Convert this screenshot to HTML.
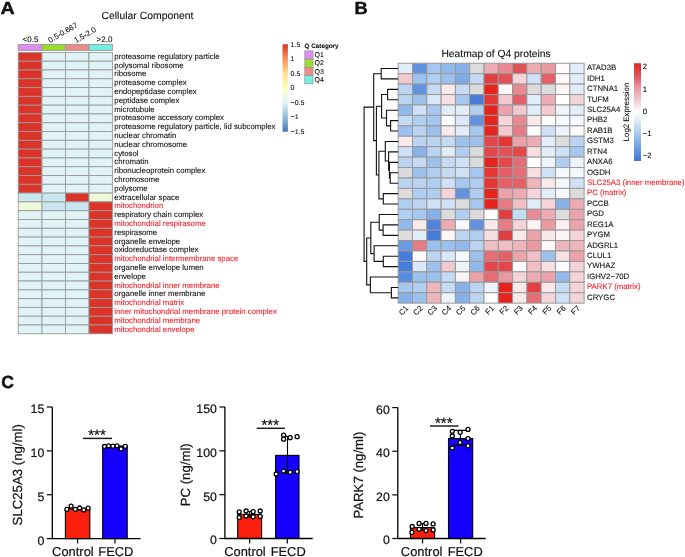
<!DOCTYPE html><html><head><meta charset="utf-8"><style>html,body{margin:0;padding:0;background:#fff;}svg{display:block;will-change:transform;}text{font-family:"Liberation Sans",sans-serif;text-rendering:geometricPrecision;}</style></head><body>
<svg width="685" height="557" viewBox="0 0 685 557">
<rect width="685" height="557" fill="#fff"/>
<text transform="translate(0.4,14.1) scale(1.12,1)" font-size="17.6" font-weight="bold" fill="#111" stroke="#111" stroke-width="0.45">A</text>
<text transform="translate(354.4,14) scale(1.04,1)" font-size="17.6" font-weight="bold" fill="#111" stroke="#111" stroke-width="0.45">B</text>
<text transform="translate(1.2,387.5) scale(1.0,1)" font-size="17.6" font-weight="bold" fill="#111" stroke="#111" stroke-width="0.45">C</text>
<text x="101.5" y="18.9" font-size="10.42" fill="#111" stroke="#111" stroke-width="0.1">Cellular Component</text>
<rect x="18.20" y="44.4" width="23.80" height="6" fill="#e08cf6" stroke="#999" stroke-width="0.9"/>
<rect x="42.00" y="44.4" width="23.50" height="6" fill="#9ade2c" stroke="#999" stroke-width="0.9"/>
<rect x="65.50" y="44.4" width="23.50" height="6" fill="#f08a86" stroke="#999" stroke-width="0.9"/>
<rect x="89.00" y="44.4" width="23.40" height="6" fill="#6ef2e4" stroke="#999" stroke-width="0.9"/>
<rect x="18.20" y="52.40" width="23.80" height="8.79" fill="#db3328" stroke="#9a9a9a" stroke-width="0.9"/>
<rect x="42.00" y="52.40" width="23.50" height="8.79" fill="#e0f4f7" stroke="#9a9a9a" stroke-width="0.9"/>
<rect x="65.50" y="52.40" width="23.50" height="8.79" fill="#e0f4f7" stroke="#9a9a9a" stroke-width="0.9"/>
<rect x="89.00" y="52.40" width="23.40" height="8.79" fill="#e0f4f7" stroke="#9a9a9a" stroke-width="0.9"/>
<text x="114.3" y="58.90" font-size="7.8" fill="#111" stroke="#111" stroke-width="0.1">proteasome regulatory particle</text>
<rect x="18.20" y="61.19" width="23.80" height="8.79" fill="#db3328" stroke="#9a9a9a" stroke-width="0.9"/>
<rect x="42.00" y="61.19" width="23.50" height="8.79" fill="#e0f4f7" stroke="#9a9a9a" stroke-width="0.9"/>
<rect x="65.50" y="61.19" width="23.50" height="8.79" fill="#e0f4f7" stroke="#9a9a9a" stroke-width="0.9"/>
<rect x="89.00" y="61.19" width="23.40" height="8.79" fill="#e0f4f7" stroke="#9a9a9a" stroke-width="0.9"/>
<text x="114.3" y="67.69" font-size="7.8" fill="#111" stroke="#111" stroke-width="0.1">polysomal ribosome</text>
<rect x="18.20" y="69.99" width="23.80" height="8.79" fill="#db3328" stroke="#9a9a9a" stroke-width="0.9"/>
<rect x="42.00" y="69.99" width="23.50" height="8.79" fill="#e0f4f7" stroke="#9a9a9a" stroke-width="0.9"/>
<rect x="65.50" y="69.99" width="23.50" height="8.79" fill="#e0f4f7" stroke="#9a9a9a" stroke-width="0.9"/>
<rect x="89.00" y="69.99" width="23.40" height="8.79" fill="#e0f4f7" stroke="#9a9a9a" stroke-width="0.9"/>
<text x="114.3" y="76.48" font-size="7.8" fill="#111" stroke="#111" stroke-width="0.1">ribosome</text>
<rect x="18.20" y="78.78" width="23.80" height="8.79" fill="#db3328" stroke="#9a9a9a" stroke-width="0.9"/>
<rect x="42.00" y="78.78" width="23.50" height="8.79" fill="#e0f4f7" stroke="#9a9a9a" stroke-width="0.9"/>
<rect x="65.50" y="78.78" width="23.50" height="8.79" fill="#e0f4f7" stroke="#9a9a9a" stroke-width="0.9"/>
<rect x="89.00" y="78.78" width="23.40" height="8.79" fill="#e0f4f7" stroke="#9a9a9a" stroke-width="0.9"/>
<text x="114.3" y="85.28" font-size="7.8" fill="#111" stroke="#111" stroke-width="0.1">proteasome complex</text>
<rect x="18.20" y="87.58" width="23.80" height="8.79" fill="#db3328" stroke="#9a9a9a" stroke-width="0.9"/>
<rect x="42.00" y="87.58" width="23.50" height="8.79" fill="#e0f4f7" stroke="#9a9a9a" stroke-width="0.9"/>
<rect x="65.50" y="87.58" width="23.50" height="8.79" fill="#e0f4f7" stroke="#9a9a9a" stroke-width="0.9"/>
<rect x="89.00" y="87.58" width="23.40" height="8.79" fill="#e0f4f7" stroke="#9a9a9a" stroke-width="0.9"/>
<text x="114.3" y="94.07" font-size="7.8" fill="#111" stroke="#111" stroke-width="0.1">endopeptidase complex</text>
<rect x="18.20" y="96.37" width="23.80" height="8.79" fill="#db3328" stroke="#9a9a9a" stroke-width="0.9"/>
<rect x="42.00" y="96.37" width="23.50" height="8.79" fill="#e0f4f7" stroke="#9a9a9a" stroke-width="0.9"/>
<rect x="65.50" y="96.37" width="23.50" height="8.79" fill="#e0f4f7" stroke="#9a9a9a" stroke-width="0.9"/>
<rect x="89.00" y="96.37" width="23.40" height="8.79" fill="#e0f4f7" stroke="#9a9a9a" stroke-width="0.9"/>
<text x="114.3" y="102.87" font-size="7.8" fill="#111" stroke="#111" stroke-width="0.1">peptidase complex</text>
<rect x="18.20" y="105.16" width="23.80" height="8.79" fill="#db3328" stroke="#9a9a9a" stroke-width="0.9"/>
<rect x="42.00" y="105.16" width="23.50" height="8.79" fill="#e0f4f7" stroke="#9a9a9a" stroke-width="0.9"/>
<rect x="65.50" y="105.16" width="23.50" height="8.79" fill="#e0f4f7" stroke="#9a9a9a" stroke-width="0.9"/>
<rect x="89.00" y="105.16" width="23.40" height="8.79" fill="#e0f4f7" stroke="#9a9a9a" stroke-width="0.9"/>
<text x="114.3" y="111.66" font-size="7.8" fill="#111" stroke="#111" stroke-width="0.1">microtubule</text>
<rect x="18.20" y="113.96" width="23.80" height="8.79" fill="#db3328" stroke="#9a9a9a" stroke-width="0.9"/>
<rect x="42.00" y="113.96" width="23.50" height="8.79" fill="#e0f4f7" stroke="#9a9a9a" stroke-width="0.9"/>
<rect x="65.50" y="113.96" width="23.50" height="8.79" fill="#e0f4f7" stroke="#9a9a9a" stroke-width="0.9"/>
<rect x="89.00" y="113.96" width="23.40" height="8.79" fill="#e0f4f7" stroke="#9a9a9a" stroke-width="0.9"/>
<text x="114.3" y="120.45" font-size="7.8" fill="#111" stroke="#111" stroke-width="0.1">proteasome accessory complex</text>
<rect x="18.20" y="122.75" width="23.80" height="8.79" fill="#db3328" stroke="#9a9a9a" stroke-width="0.9"/>
<rect x="42.00" y="122.75" width="23.50" height="8.79" fill="#e0f4f7" stroke="#9a9a9a" stroke-width="0.9"/>
<rect x="65.50" y="122.75" width="23.50" height="8.79" fill="#e0f4f7" stroke="#9a9a9a" stroke-width="0.9"/>
<rect x="89.00" y="122.75" width="23.40" height="8.79" fill="#e0f4f7" stroke="#9a9a9a" stroke-width="0.9"/>
<text x="114.3" y="129.25" font-size="7.8" fill="#111" stroke="#111" stroke-width="0.1">proteasome regulatory particle, lid subcomplex</text>
<rect x="18.20" y="131.54" width="23.80" height="8.79" fill="#db3328" stroke="#9a9a9a" stroke-width="0.9"/>
<rect x="42.00" y="131.54" width="23.50" height="8.79" fill="#e0f4f7" stroke="#9a9a9a" stroke-width="0.9"/>
<rect x="65.50" y="131.54" width="23.50" height="8.79" fill="#e0f4f7" stroke="#9a9a9a" stroke-width="0.9"/>
<rect x="89.00" y="131.54" width="23.40" height="8.79" fill="#e0f4f7" stroke="#9a9a9a" stroke-width="0.9"/>
<text x="114.3" y="138.04" font-size="7.8" fill="#111" stroke="#111" stroke-width="0.1">nuclear chromatin</text>
<rect x="18.20" y="140.34" width="23.80" height="8.79" fill="#db3328" stroke="#9a9a9a" stroke-width="0.9"/>
<rect x="42.00" y="140.34" width="23.50" height="8.79" fill="#e0f4f7" stroke="#9a9a9a" stroke-width="0.9"/>
<rect x="65.50" y="140.34" width="23.50" height="8.79" fill="#e0f4f7" stroke="#9a9a9a" stroke-width="0.9"/>
<rect x="89.00" y="140.34" width="23.40" height="8.79" fill="#e0f4f7" stroke="#9a9a9a" stroke-width="0.9"/>
<text x="114.3" y="146.83" font-size="7.8" fill="#111" stroke="#111" stroke-width="0.1">nuclear chromosome</text>
<rect x="18.20" y="149.13" width="23.80" height="8.79" fill="#db3328" stroke="#9a9a9a" stroke-width="0.9"/>
<rect x="42.00" y="149.13" width="23.50" height="8.79" fill="#e0f4f7" stroke="#9a9a9a" stroke-width="0.9"/>
<rect x="65.50" y="149.13" width="23.50" height="8.79" fill="#e0f4f7" stroke="#9a9a9a" stroke-width="0.9"/>
<rect x="89.00" y="149.13" width="23.40" height="8.79" fill="#e0f4f7" stroke="#9a9a9a" stroke-width="0.9"/>
<text x="114.3" y="155.63" font-size="7.8" fill="#111" stroke="#111" stroke-width="0.1">cytosol</text>
<rect x="18.20" y="157.93" width="23.80" height="8.79" fill="#db3328" stroke="#9a9a9a" stroke-width="0.9"/>
<rect x="42.00" y="157.93" width="23.50" height="8.79" fill="#e0f4f7" stroke="#9a9a9a" stroke-width="0.9"/>
<rect x="65.50" y="157.93" width="23.50" height="8.79" fill="#e0f4f7" stroke="#9a9a9a" stroke-width="0.9"/>
<rect x="89.00" y="157.93" width="23.40" height="8.79" fill="#e0f4f7" stroke="#9a9a9a" stroke-width="0.9"/>
<text x="114.3" y="164.42" font-size="7.8" fill="#111" stroke="#111" stroke-width="0.1">chromatin</text>
<rect x="18.20" y="166.72" width="23.80" height="8.79" fill="#db3328" stroke="#9a9a9a" stroke-width="0.9"/>
<rect x="42.00" y="166.72" width="23.50" height="8.79" fill="#e0f4f7" stroke="#9a9a9a" stroke-width="0.9"/>
<rect x="65.50" y="166.72" width="23.50" height="8.79" fill="#e0f4f7" stroke="#9a9a9a" stroke-width="0.9"/>
<rect x="89.00" y="166.72" width="23.40" height="8.79" fill="#e0f4f7" stroke="#9a9a9a" stroke-width="0.9"/>
<text x="114.3" y="173.22" font-size="7.8" fill="#111" stroke="#111" stroke-width="0.1">ribonucleoprotein complex</text>
<rect x="18.20" y="175.51" width="23.80" height="8.79" fill="#db3328" stroke="#9a9a9a" stroke-width="0.9"/>
<rect x="42.00" y="175.51" width="23.50" height="8.79" fill="#e0f4f7" stroke="#9a9a9a" stroke-width="0.9"/>
<rect x="65.50" y="175.51" width="23.50" height="8.79" fill="#e0f4f7" stroke="#9a9a9a" stroke-width="0.9"/>
<rect x="89.00" y="175.51" width="23.40" height="8.79" fill="#e0f4f7" stroke="#9a9a9a" stroke-width="0.9"/>
<text x="114.3" y="182.01" font-size="7.8" fill="#111" stroke="#111" stroke-width="0.1">chromosome</text>
<rect x="18.20" y="184.31" width="23.80" height="8.79" fill="#db3328" stroke="#9a9a9a" stroke-width="0.9"/>
<rect x="42.00" y="184.31" width="23.50" height="8.79" fill="#e0f4f7" stroke="#9a9a9a" stroke-width="0.9"/>
<rect x="65.50" y="184.31" width="23.50" height="8.79" fill="#e0f4f7" stroke="#9a9a9a" stroke-width="0.9"/>
<rect x="89.00" y="184.31" width="23.40" height="8.79" fill="#e0f4f7" stroke="#9a9a9a" stroke-width="0.9"/>
<text x="114.3" y="190.80" font-size="7.8" fill="#111" stroke="#111" stroke-width="0.1">polysome</text>
<rect x="18.20" y="193.10" width="23.80" height="8.79" fill="#c8e6ee" stroke="#9a9a9a" stroke-width="0.9"/>
<rect x="42.00" y="193.10" width="23.50" height="8.79" fill="#c8e6ee" stroke="#9a9a9a" stroke-width="0.9"/>
<rect x="65.50" y="193.10" width="23.50" height="8.79" fill="#db3328" stroke="#9a9a9a" stroke-width="0.9"/>
<rect x="89.00" y="193.10" width="23.40" height="8.79" fill="#eff9d8" stroke="#9a9a9a" stroke-width="0.9"/>
<text x="114.3" y="199.60" font-size="7.8" fill="#111" stroke="#111" stroke-width="0.1">extracellular space</text>
<rect x="18.20" y="201.89" width="23.80" height="8.79" fill="#eff9d8" stroke="#9a9a9a" stroke-width="0.9"/>
<rect x="42.00" y="201.89" width="23.50" height="8.79" fill="#c8e6ee" stroke="#9a9a9a" stroke-width="0.9"/>
<rect x="65.50" y="201.89" width="23.50" height="8.79" fill="#c8e6ee" stroke="#9a9a9a" stroke-width="0.9"/>
<rect x="89.00" y="201.89" width="23.40" height="8.79" fill="#db3328" stroke="#9a9a9a" stroke-width="0.9"/>
<text x="114.3" y="208.39" font-size="7.8" fill="#f41e26" stroke="#f41e26" stroke-width="0.1">mitochondrion</text>
<rect x="18.20" y="210.69" width="23.80" height="8.79" fill="#e0f4f7" stroke="#9a9a9a" stroke-width="0.9"/>
<rect x="42.00" y="210.69" width="23.50" height="8.79" fill="#e0f4f7" stroke="#9a9a9a" stroke-width="0.9"/>
<rect x="65.50" y="210.69" width="23.50" height="8.79" fill="#e0f4f7" stroke="#9a9a9a" stroke-width="0.9"/>
<rect x="89.00" y="210.69" width="23.40" height="8.79" fill="#db3328" stroke="#9a9a9a" stroke-width="0.9"/>
<text x="114.3" y="217.18" font-size="7.8" fill="#111" stroke="#111" stroke-width="0.1">respiratory chain complex</text>
<rect x="18.20" y="219.48" width="23.80" height="8.79" fill="#e0f4f7" stroke="#9a9a9a" stroke-width="0.9"/>
<rect x="42.00" y="219.48" width="23.50" height="8.79" fill="#e0f4f7" stroke="#9a9a9a" stroke-width="0.9"/>
<rect x="65.50" y="219.48" width="23.50" height="8.79" fill="#e0f4f7" stroke="#9a9a9a" stroke-width="0.9"/>
<rect x="89.00" y="219.48" width="23.40" height="8.79" fill="#db3328" stroke="#9a9a9a" stroke-width="0.9"/>
<text x="114.3" y="225.98" font-size="7.8" fill="#f41e26" stroke="#f41e26" stroke-width="0.1">mitochondrial respirasome</text>
<rect x="18.20" y="228.28" width="23.80" height="8.79" fill="#e0f4f7" stroke="#9a9a9a" stroke-width="0.9"/>
<rect x="42.00" y="228.28" width="23.50" height="8.79" fill="#e0f4f7" stroke="#9a9a9a" stroke-width="0.9"/>
<rect x="65.50" y="228.28" width="23.50" height="8.79" fill="#e0f4f7" stroke="#9a9a9a" stroke-width="0.9"/>
<rect x="89.00" y="228.28" width="23.40" height="8.79" fill="#db3328" stroke="#9a9a9a" stroke-width="0.9"/>
<text x="114.3" y="234.77" font-size="7.8" fill="#111" stroke="#111" stroke-width="0.1">respirasome</text>
<rect x="18.20" y="237.07" width="23.80" height="8.79" fill="#e0f4f7" stroke="#9a9a9a" stroke-width="0.9"/>
<rect x="42.00" y="237.07" width="23.50" height="8.79" fill="#e0f4f7" stroke="#9a9a9a" stroke-width="0.9"/>
<rect x="65.50" y="237.07" width="23.50" height="8.79" fill="#e0f4f7" stroke="#9a9a9a" stroke-width="0.9"/>
<rect x="89.00" y="237.07" width="23.40" height="8.79" fill="#db3328" stroke="#9a9a9a" stroke-width="0.9"/>
<text x="114.3" y="243.57" font-size="7.8" fill="#111" stroke="#111" stroke-width="0.1">organelle envelope</text>
<rect x="18.20" y="245.86" width="23.80" height="8.79" fill="#e0f4f7" stroke="#9a9a9a" stroke-width="0.9"/>
<rect x="42.00" y="245.86" width="23.50" height="8.79" fill="#e0f4f7" stroke="#9a9a9a" stroke-width="0.9"/>
<rect x="65.50" y="245.86" width="23.50" height="8.79" fill="#e0f4f7" stroke="#9a9a9a" stroke-width="0.9"/>
<rect x="89.00" y="245.86" width="23.40" height="8.79" fill="#db3328" stroke="#9a9a9a" stroke-width="0.9"/>
<text x="114.3" y="252.36" font-size="7.8" fill="#111" stroke="#111" stroke-width="0.1">oxidoreductase complex</text>
<rect x="18.20" y="254.66" width="23.80" height="8.79" fill="#e0f4f7" stroke="#9a9a9a" stroke-width="0.9"/>
<rect x="42.00" y="254.66" width="23.50" height="8.79" fill="#e0f4f7" stroke="#9a9a9a" stroke-width="0.9"/>
<rect x="65.50" y="254.66" width="23.50" height="8.79" fill="#e0f4f7" stroke="#9a9a9a" stroke-width="0.9"/>
<rect x="89.00" y="254.66" width="23.40" height="8.79" fill="#db3328" stroke="#9a9a9a" stroke-width="0.9"/>
<text x="114.3" y="261.15" font-size="7.8" fill="#f41e26" stroke="#f41e26" stroke-width="0.1">mitochondrial intermembrane space</text>
<rect x="18.20" y="263.45" width="23.80" height="8.79" fill="#e0f4f7" stroke="#9a9a9a" stroke-width="0.9"/>
<rect x="42.00" y="263.45" width="23.50" height="8.79" fill="#e0f4f7" stroke="#9a9a9a" stroke-width="0.9"/>
<rect x="65.50" y="263.45" width="23.50" height="8.79" fill="#e0f4f7" stroke="#9a9a9a" stroke-width="0.9"/>
<rect x="89.00" y="263.45" width="23.40" height="8.79" fill="#db3328" stroke="#9a9a9a" stroke-width="0.9"/>
<text x="114.3" y="269.95" font-size="7.8" fill="#111" stroke="#111" stroke-width="0.1">organelle envelope lumen</text>
<rect x="18.20" y="272.24" width="23.80" height="8.79" fill="#e0f4f7" stroke="#9a9a9a" stroke-width="0.9"/>
<rect x="42.00" y="272.24" width="23.50" height="8.79" fill="#e0f4f7" stroke="#9a9a9a" stroke-width="0.9"/>
<rect x="65.50" y="272.24" width="23.50" height="8.79" fill="#e0f4f7" stroke="#9a9a9a" stroke-width="0.9"/>
<rect x="89.00" y="272.24" width="23.40" height="8.79" fill="#db3328" stroke="#9a9a9a" stroke-width="0.9"/>
<text x="114.3" y="278.74" font-size="7.8" fill="#111" stroke="#111" stroke-width="0.1">envelope</text>
<rect x="18.20" y="281.04" width="23.80" height="8.79" fill="#e0f4f7" stroke="#9a9a9a" stroke-width="0.9"/>
<rect x="42.00" y="281.04" width="23.50" height="8.79" fill="#e0f4f7" stroke="#9a9a9a" stroke-width="0.9"/>
<rect x="65.50" y="281.04" width="23.50" height="8.79" fill="#e0f4f7" stroke="#9a9a9a" stroke-width="0.9"/>
<rect x="89.00" y="281.04" width="23.40" height="8.79" fill="#db3328" stroke="#9a9a9a" stroke-width="0.9"/>
<text x="114.3" y="287.53" font-size="7.8" fill="#f41e26" stroke="#f41e26" stroke-width="0.1">mitochondrial inner membrane</text>
<rect x="18.20" y="289.83" width="23.80" height="8.79" fill="#e0f4f7" stroke="#9a9a9a" stroke-width="0.9"/>
<rect x="42.00" y="289.83" width="23.50" height="8.79" fill="#e0f4f7" stroke="#9a9a9a" stroke-width="0.9"/>
<rect x="65.50" y="289.83" width="23.50" height="8.79" fill="#e0f4f7" stroke="#9a9a9a" stroke-width="0.9"/>
<rect x="89.00" y="289.83" width="23.40" height="8.79" fill="#db3328" stroke="#9a9a9a" stroke-width="0.9"/>
<text x="114.3" y="296.33" font-size="7.8" fill="#111" stroke="#111" stroke-width="0.1">organelle inner membrane</text>
<rect x="18.20" y="298.62" width="23.80" height="8.79" fill="#e0f4f7" stroke="#9a9a9a" stroke-width="0.9"/>
<rect x="42.00" y="298.62" width="23.50" height="8.79" fill="#e0f4f7" stroke="#9a9a9a" stroke-width="0.9"/>
<rect x="65.50" y="298.62" width="23.50" height="8.79" fill="#e0f4f7" stroke="#9a9a9a" stroke-width="0.9"/>
<rect x="89.00" y="298.62" width="23.40" height="8.79" fill="#db3328" stroke="#9a9a9a" stroke-width="0.9"/>
<text x="114.3" y="305.12" font-size="7.8" fill="#f41e26" stroke="#f41e26" stroke-width="0.1">mitochondrial matrix</text>
<rect x="18.20" y="307.42" width="23.80" height="8.79" fill="#e0f4f7" stroke="#9a9a9a" stroke-width="0.9"/>
<rect x="42.00" y="307.42" width="23.50" height="8.79" fill="#e0f4f7" stroke="#9a9a9a" stroke-width="0.9"/>
<rect x="65.50" y="307.42" width="23.50" height="8.79" fill="#e0f4f7" stroke="#9a9a9a" stroke-width="0.9"/>
<rect x="89.00" y="307.42" width="23.40" height="8.79" fill="#db3328" stroke="#9a9a9a" stroke-width="0.9"/>
<text x="114.3" y="313.92" font-size="7.8" fill="#f41e26" stroke="#f41e26" stroke-width="0.1">inner mitochondrial membrane protein complex</text>
<rect x="18.20" y="316.21" width="23.80" height="8.79" fill="#e0f4f7" stroke="#9a9a9a" stroke-width="0.9"/>
<rect x="42.00" y="316.21" width="23.50" height="8.79" fill="#e0f4f7" stroke="#9a9a9a" stroke-width="0.9"/>
<rect x="65.50" y="316.21" width="23.50" height="8.79" fill="#e0f4f7" stroke="#9a9a9a" stroke-width="0.9"/>
<rect x="89.00" y="316.21" width="23.40" height="8.79" fill="#db3328" stroke="#9a9a9a" stroke-width="0.9"/>
<text x="114.3" y="322.71" font-size="7.8" fill="#f41e26" stroke="#f41e26" stroke-width="0.1">mitochondrial membrane</text>
<rect x="18.20" y="325.01" width="23.80" height="8.79" fill="#e0f4f7" stroke="#9a9a9a" stroke-width="0.9"/>
<rect x="42.00" y="325.01" width="23.50" height="8.79" fill="#e0f4f7" stroke="#9a9a9a" stroke-width="0.9"/>
<rect x="65.50" y="325.01" width="23.50" height="8.79" fill="#e0f4f7" stroke="#9a9a9a" stroke-width="0.9"/>
<rect x="89.00" y="325.01" width="23.40" height="8.79" fill="#db3328" stroke="#9a9a9a" stroke-width="0.9"/>
<text x="114.3" y="331.50" font-size="7.8" fill="#f41e26" stroke="#f41e26" stroke-width="0.1">mitochondrial envelope</text>
<text x="22.6" y="41.9" font-size="8" fill="#111" stroke="#111" stroke-width="0.1">&lt;0.5</text>
<text x="96.6" y="41.9" font-size="8" fill="#111" stroke="#111" stroke-width="0.1">&gt;2.0</text>
<text transform="translate(50.1,42.9) rotate(-30)" font-size="7.7" fill="#111" stroke="#111" stroke-width="0.1">0.5-0.667</text>
<text transform="translate(76,43.1) rotate(-30)" font-size="7.7" fill="#111" stroke="#111" stroke-width="0.1">1.5-2.0</text>
<defs><linearGradient id="rdylbu" x1="0" y1="1" x2="0" y2="0"><stop offset="0" stop-color="#4575b4"/><stop offset="0.1667" stop-color="#91bfdb"/><stop offset="0.3333" stop-color="#e0f3f8"/><stop offset="0.5" stop-color="#ffffbf"/><stop offset="0.6667" stop-color="#fee090"/><stop offset="0.8333" stop-color="#fc8d59"/><stop offset="1" stop-color="#d73027"/></linearGradient><linearGradient id="bwr" x1="0" y1="1" x2="0" y2="0"><stop offset="0" stop-color="#3e76d8"/><stop offset="0.125" stop-color="#6a9ae2"/><stop offset="0.25" stop-color="#9cc1ed"/><stop offset="0.375" stop-color="#cfe1f6"/><stop offset="0.5" stop-color="#ffffff"/><stop offset="0.625" stop-color="#f1c9ce"/><stop offset="0.75" stop-color="#ea99a1"/><stop offset="0.875" stop-color="#e25058"/><stop offset="1" stop-color="#e5241e"/></linearGradient></defs>
<rect x="282.5" y="44.3" width="5.4" height="87.4" fill="url(#rdylbu)"/>
<text x="290.6" y="46.7" font-size="7" fill="#111" stroke="#111" stroke-width="0.1">1.5</text>
<text x="290.6" y="61.3" font-size="7" fill="#111" stroke="#111" stroke-width="0.1">1</text>
<text x="290.6" y="75.6" font-size="7" fill="#111" stroke="#111" stroke-width="0.1">0.5</text>
<text x="290.6" y="90.0" font-size="7" fill="#111" stroke="#111" stroke-width="0.1">0</text>
<text x="290.6" y="104.7" font-size="7" fill="#111" stroke="#111" stroke-width="0.1">−0.5</text>
<text x="290.6" y="119.1" font-size="7" fill="#111" stroke="#111" stroke-width="0.1">−1</text>
<text x="290.6" y="133.5" font-size="7" fill="#111" stroke="#111" stroke-width="0.1">−1.5</text>
<text x="304.6" y="48.2" font-size="6.3" font-weight="bold" fill="#111" stroke="#111" stroke-width="0.1">Q Category</text>
<rect x="304.8" y="50.9" width="8.2" height="8.2" fill="#e08cf6" stroke="#999" stroke-width="0.8"/>
<text x="314.5" y="57.0" font-size="7" fill="#111" stroke="#111" stroke-width="0.1">Q1</text>
<rect x="304.8" y="59.2" width="8.2" height="8.2" fill="#9ade2c" stroke="#999" stroke-width="0.8"/>
<text x="314.5" y="65.3" font-size="7" fill="#111" stroke="#111" stroke-width="0.1">Q2</text>
<rect x="304.8" y="67.4" width="8.2" height="8.2" fill="#f08a86" stroke="#999" stroke-width="0.8"/>
<text x="314.5" y="73.5" font-size="7" fill="#111" stroke="#111" stroke-width="0.1">Q3</text>
<rect x="304.8" y="75.6" width="8.2" height="8.2" fill="#6ef2e4" stroke="#999" stroke-width="0.8"/>
<text x="314.5" y="81.7" font-size="7" fill="#111" stroke="#111" stroke-width="0.1">Q4</text>
<text x="441.4" y="56.7" font-size="10.3" fill="#111" stroke="#111" stroke-width="0.1">Heatmap of Q4 proteins</text>
<rect x="398.20" y="63.25" width="14.30" height="10.43" fill="#e2edfa" stroke="#999" stroke-width="1"/>
<rect x="412.50" y="63.25" width="14.30" height="10.43" fill="#6193e0" stroke="#999" stroke-width="1"/>
<rect x="426.80" y="63.25" width="14.30" height="10.43" fill="#a6c7ef" stroke="#999" stroke-width="1"/>
<rect x="441.10" y="63.25" width="14.30" height="10.43" fill="#92b9eb" stroke="#999" stroke-width="1"/>
<rect x="455.40" y="63.25" width="14.30" height="10.43" fill="#88b1e9" stroke="#999" stroke-width="1"/>
<rect x="469.70" y="63.25" width="14.30" height="10.43" fill="#dcdcdc" stroke="#999" stroke-width="1"/>
<rect x="484.00" y="63.25" width="14.30" height="10.43" fill="#edacb3" stroke="#999" stroke-width="1"/>
<rect x="498.30" y="63.25" width="14.30" height="10.43" fill="#e88a92" stroke="#999" stroke-width="1"/>
<rect x="512.60" y="63.25" width="14.30" height="10.43" fill="#e25058" stroke="#999" stroke-width="1"/>
<rect x="526.90" y="63.25" width="14.30" height="10.43" fill="#edacb3" stroke="#999" stroke-width="1"/>
<rect x="541.20" y="63.25" width="14.30" height="10.43" fill="#ea99a1" stroke="#999" stroke-width="1"/>
<rect x="555.50" y="63.25" width="14.30" height="10.43" fill="#fefafa" stroke="#999" stroke-width="1"/>
<rect x="569.80" y="63.25" width="14.30" height="10.43" fill="#e2edfa" stroke="#999" stroke-width="1"/>
<text x="587" y="70.22" font-size="7.8" fill="#111" stroke="#111" stroke-width="0.1">ATAD3B</text>
<rect x="398.20" y="73.68" width="14.30" height="10.43" fill="#f1c9ce" stroke="#999" stroke-width="1"/>
<rect x="412.50" y="73.68" width="14.30" height="10.43" fill="#9cc1ed" stroke="#999" stroke-width="1"/>
<rect x="426.80" y="73.68" width="14.30" height="10.43" fill="#b0cef1" stroke="#999" stroke-width="1"/>
<rect x="441.10" y="73.68" width="14.30" height="10.43" fill="#9cc1ed" stroke="#999" stroke-width="1"/>
<rect x="455.40" y="73.68" width="14.30" height="10.43" fill="#7eaae6" stroke="#999" stroke-width="1"/>
<rect x="469.70" y="73.68" width="14.30" height="10.43" fill="#c5dbf4" stroke="#999" stroke-width="1"/>
<rect x="484.00" y="73.68" width="14.30" height="10.43" fill="#e33e41" stroke="#999" stroke-width="1"/>
<rect x="498.30" y="73.68" width="14.30" height="10.43" fill="#e25058" stroke="#999" stroke-width="1"/>
<rect x="512.60" y="73.68" width="14.30" height="10.43" fill="#f4d4d8" stroke="#999" stroke-width="1"/>
<rect x="526.90" y="73.68" width="14.30" height="10.43" fill="#cfe1f6" stroke="#999" stroke-width="1"/>
<rect x="541.20" y="73.68" width="14.30" height="10.43" fill="#e45f67" stroke="#999" stroke-width="1"/>
<rect x="555.50" y="73.68" width="14.30" height="10.43" fill="#fefafa" stroke="#999" stroke-width="1"/>
<rect x="569.80" y="73.68" width="14.30" height="10.43" fill="#e2edfa" stroke="#999" stroke-width="1"/>
<text x="587" y="80.65" font-size="7.8" fill="#111" stroke="#111" stroke-width="0.1">IDH1</text>
<rect x="398.20" y="84.11" width="14.30" height="10.43" fill="#bbd4f2" stroke="#999" stroke-width="1"/>
<rect x="412.50" y="84.11" width="14.30" height="10.43" fill="#6193e0" stroke="#999" stroke-width="1"/>
<rect x="426.80" y="84.11" width="14.30" height="10.43" fill="#c5dbf4" stroke="#999" stroke-width="1"/>
<rect x="441.10" y="84.11" width="14.30" height="10.43" fill="#f9e9eb" stroke="#999" stroke-width="1"/>
<rect x="455.40" y="84.11" width="14.30" height="10.43" fill="#c5dbf4" stroke="#999" stroke-width="1"/>
<rect x="469.70" y="84.11" width="14.30" height="10.43" fill="#dcdcdc" stroke="#999" stroke-width="1"/>
<rect x="484.00" y="84.11" width="14.30" height="10.43" fill="#e5241e" stroke="#999" stroke-width="1"/>
<rect x="498.30" y="84.11" width="14.30" height="10.43" fill="#fefafa" stroke="#999" stroke-width="1"/>
<rect x="512.60" y="84.11" width="14.30" height="10.43" fill="#e88a92" stroke="#999" stroke-width="1"/>
<rect x="526.90" y="84.11" width="14.30" height="10.43" fill="#dcdcdc" stroke="#999" stroke-width="1"/>
<rect x="541.20" y="84.11" width="14.30" height="10.43" fill="#dcdcdc" stroke="#999" stroke-width="1"/>
<rect x="555.50" y="84.11" width="14.30" height="10.43" fill="#fcf4f5" stroke="#999" stroke-width="1"/>
<rect x="569.80" y="84.11" width="14.30" height="10.43" fill="#e2edfa" stroke="#999" stroke-width="1"/>
<text x="587" y="91.08" font-size="7.8" fill="#111" stroke="#111" stroke-width="0.1">CTNNA1</text>
<rect x="398.20" y="94.54" width="14.30" height="10.43" fill="#bbd4f2" stroke="#999" stroke-width="1"/>
<rect x="412.50" y="94.54" width="14.30" height="10.43" fill="#9cc1ed" stroke="#999" stroke-width="1"/>
<rect x="426.80" y="94.54" width="14.30" height="10.43" fill="#d9e7f8" stroke="#999" stroke-width="1"/>
<rect x="441.10" y="94.54" width="14.30" height="10.43" fill="#f7dfe2" stroke="#999" stroke-width="1"/>
<rect x="455.40" y="94.54" width="14.30" height="10.43" fill="#a6c7ef" stroke="#999" stroke-width="1"/>
<rect x="469.70" y="94.54" width="14.30" height="10.43" fill="#477dda" stroke="#999" stroke-width="1"/>
<rect x="484.00" y="94.54" width="14.30" height="10.43" fill="#e43635" stroke="#999" stroke-width="1"/>
<rect x="498.30" y="94.54" width="14.30" height="10.43" fill="#f1c9ce" stroke="#999" stroke-width="1"/>
<rect x="512.60" y="94.54" width="14.30" height="10.43" fill="#e45f67" stroke="#999" stroke-width="1"/>
<rect x="526.90" y="94.54" width="14.30" height="10.43" fill="#e2edfa" stroke="#999" stroke-width="1"/>
<rect x="541.20" y="94.54" width="14.30" height="10.43" fill="#edacb3" stroke="#999" stroke-width="1"/>
<rect x="555.50" y="94.54" width="14.30" height="10.43" fill="#ffffff" stroke="#999" stroke-width="1"/>
<rect x="569.80" y="94.54" width="14.30" height="10.43" fill="#f4d4d8" stroke="#999" stroke-width="1"/>
<text x="587" y="101.50" font-size="7.8" fill="#111" stroke="#111" stroke-width="0.1">TUFM</text>
<rect x="398.20" y="104.97" width="14.30" height="10.43" fill="#92b9eb" stroke="#999" stroke-width="1"/>
<rect x="412.50" y="104.97" width="14.30" height="10.43" fill="#cfe1f6" stroke="#999" stroke-width="1"/>
<rect x="426.80" y="104.97" width="14.30" height="10.43" fill="#a6c7ef" stroke="#999" stroke-width="1"/>
<rect x="441.10" y="104.97" width="14.30" height="10.43" fill="#e2edfa" stroke="#999" stroke-width="1"/>
<rect x="455.40" y="104.97" width="14.30" height="10.43" fill="#e2edfa" stroke="#999" stroke-width="1"/>
<rect x="469.70" y="104.97" width="14.30" height="10.43" fill="#b0cef1" stroke="#999" stroke-width="1"/>
<rect x="484.00" y="104.97" width="14.30" height="10.43" fill="#e5241e" stroke="#999" stroke-width="1"/>
<rect x="498.30" y="104.97" width="14.30" height="10.43" fill="#eba3aa" stroke="#999" stroke-width="1"/>
<rect x="512.60" y="104.97" width="14.30" height="10.43" fill="#f1c9ce" stroke="#999" stroke-width="1"/>
<rect x="526.90" y="104.97" width="14.30" height="10.43" fill="#e2edfa" stroke="#999" stroke-width="1"/>
<rect x="541.20" y="104.97" width="14.30" height="10.43" fill="#f1c9ce" stroke="#999" stroke-width="1"/>
<rect x="555.50" y="104.97" width="14.30" height="10.43" fill="#ecf3fb" stroke="#999" stroke-width="1"/>
<rect x="569.80" y="104.97" width="14.30" height="10.43" fill="#e2edfa" stroke="#999" stroke-width="1"/>
<text x="587" y="111.94" font-size="7.8" fill="#111" stroke="#111" stroke-width="0.1">SLC25A4</text>
<rect x="398.20" y="115.40" width="14.30" height="10.43" fill="#c5dbf4" stroke="#999" stroke-width="1"/>
<rect x="412.50" y="115.40" width="14.30" height="10.43" fill="#b0cef1" stroke="#999" stroke-width="1"/>
<rect x="426.80" y="115.40" width="14.30" height="10.43" fill="#a6c7ef" stroke="#999" stroke-width="1"/>
<rect x="441.10" y="115.40" width="14.30" height="10.43" fill="#fafcfe" stroke="#999" stroke-width="1"/>
<rect x="455.40" y="115.40" width="14.30" height="10.43" fill="#d9e7f8" stroke="#999" stroke-width="1"/>
<rect x="469.70" y="115.40" width="14.30" height="10.43" fill="#6193e0" stroke="#999" stroke-width="1"/>
<rect x="484.00" y="115.40" width="14.30" height="10.43" fill="#e5241e" stroke="#999" stroke-width="1"/>
<rect x="498.30" y="115.40" width="14.30" height="10.43" fill="#f4d4d8" stroke="#999" stroke-width="1"/>
<rect x="512.60" y="115.40" width="14.30" height="10.43" fill="#e88a92" stroke="#999" stroke-width="1"/>
<rect x="526.90" y="115.40" width="14.30" height="10.43" fill="#f9e9eb" stroke="#999" stroke-width="1"/>
<rect x="541.20" y="115.40" width="14.30" height="10.43" fill="#fefafa" stroke="#999" stroke-width="1"/>
<rect x="555.50" y="115.40" width="14.30" height="10.43" fill="#f5f9fd" stroke="#999" stroke-width="1"/>
<rect x="569.80" y="115.40" width="14.30" height="10.43" fill="#f5f9fd" stroke="#999" stroke-width="1"/>
<text x="587" y="122.37" font-size="7.8" fill="#111" stroke="#111" stroke-width="0.1">PHB2</text>
<rect x="398.20" y="125.83" width="14.30" height="10.43" fill="#9cc1ed" stroke="#999" stroke-width="1"/>
<rect x="412.50" y="125.83" width="14.30" height="10.43" fill="#bbd4f2" stroke="#999" stroke-width="1"/>
<rect x="426.80" y="125.83" width="14.30" height="10.43" fill="#9cc1ed" stroke="#999" stroke-width="1"/>
<rect x="441.10" y="125.83" width="14.30" height="10.43" fill="#f9e9eb" stroke="#999" stroke-width="1"/>
<rect x="455.40" y="125.83" width="14.30" height="10.43" fill="#e2edfa" stroke="#999" stroke-width="1"/>
<rect x="469.70" y="125.83" width="14.30" height="10.43" fill="#a6c7ef" stroke="#999" stroke-width="1"/>
<rect x="484.00" y="125.83" width="14.30" height="10.43" fill="#e5241e" stroke="#999" stroke-width="1"/>
<rect x="498.30" y="125.83" width="14.30" height="10.43" fill="#f1c9ce" stroke="#999" stroke-width="1"/>
<rect x="512.60" y="125.83" width="14.30" height="10.43" fill="#e77c84" stroke="#999" stroke-width="1"/>
<rect x="526.90" y="125.83" width="14.30" height="10.43" fill="#fafcfe" stroke="#999" stroke-width="1"/>
<rect x="541.20" y="125.83" width="14.30" height="10.43" fill="#cfe1f6" stroke="#999" stroke-width="1"/>
<rect x="555.50" y="125.83" width="14.30" height="10.43" fill="#ecf3fb" stroke="#999" stroke-width="1"/>
<rect x="569.80" y="125.83" width="14.30" height="10.43" fill="#fefafa" stroke="#999" stroke-width="1"/>
<text x="587" y="132.79" font-size="7.8" fill="#111" stroke="#111" stroke-width="0.1">RAB1B</text>
<rect x="398.20" y="136.26" width="14.30" height="10.43" fill="#f9e9eb" stroke="#999" stroke-width="1"/>
<rect x="412.50" y="136.26" width="14.30" height="10.43" fill="#bbd4f2" stroke="#999" stroke-width="1"/>
<rect x="426.80" y="136.26" width="14.30" height="10.43" fill="#bbd4f2" stroke="#999" stroke-width="1"/>
<rect x="441.10" y="136.26" width="14.30" height="10.43" fill="#c5dbf4" stroke="#999" stroke-width="1"/>
<rect x="455.40" y="136.26" width="14.30" height="10.43" fill="#9cc1ed" stroke="#999" stroke-width="1"/>
<rect x="469.70" y="136.26" width="14.30" height="10.43" fill="#9cc1ed" stroke="#999" stroke-width="1"/>
<rect x="484.00" y="136.26" width="14.30" height="10.43" fill="#e3474c" stroke="#999" stroke-width="1"/>
<rect x="498.30" y="136.26" width="14.30" height="10.43" fill="#e43635" stroke="#999" stroke-width="1"/>
<rect x="512.60" y="136.26" width="14.30" height="10.43" fill="#eba3aa" stroke="#999" stroke-width="1"/>
<rect x="526.90" y="136.26" width="14.30" height="10.43" fill="#edacb3" stroke="#999" stroke-width="1"/>
<rect x="541.20" y="136.26" width="14.30" height="10.43" fill="#e2edfa" stroke="#999" stroke-width="1"/>
<rect x="555.50" y="136.26" width="14.30" height="10.43" fill="#dcdcdc" stroke="#999" stroke-width="1"/>
<rect x="569.80" y="136.26" width="14.30" height="10.43" fill="#bbd4f2" stroke="#999" stroke-width="1"/>
<text x="587" y="143.22" font-size="7.8" fill="#111" stroke="#111" stroke-width="0.1">GSTM3</text>
<rect x="398.20" y="146.69" width="14.30" height="10.43" fill="#cfe1f6" stroke="#999" stroke-width="1"/>
<rect x="412.50" y="146.69" width="14.30" height="10.43" fill="#88b1e9" stroke="#999" stroke-width="1"/>
<rect x="426.80" y="146.69" width="14.30" height="10.43" fill="#bbd4f2" stroke="#999" stroke-width="1"/>
<rect x="441.10" y="146.69" width="14.30" height="10.43" fill="#e2edfa" stroke="#999" stroke-width="1"/>
<rect x="455.40" y="146.69" width="14.30" height="10.43" fill="#b0cef1" stroke="#999" stroke-width="1"/>
<rect x="469.70" y="146.69" width="14.30" height="10.43" fill="#dcdcdc" stroke="#999" stroke-width="1"/>
<rect x="484.00" y="146.69" width="14.30" height="10.43" fill="#e3474c" stroke="#999" stroke-width="1"/>
<rect x="498.30" y="146.69" width="14.30" height="10.43" fill="#e25058" stroke="#999" stroke-width="1"/>
<rect x="512.60" y="146.69" width="14.30" height="10.43" fill="#e3474c" stroke="#999" stroke-width="1"/>
<rect x="526.90" y="146.69" width="14.30" height="10.43" fill="#f7dfe2" stroke="#999" stroke-width="1"/>
<rect x="541.20" y="146.69" width="14.30" height="10.43" fill="#e2edfa" stroke="#999" stroke-width="1"/>
<rect x="555.50" y="146.69" width="14.30" height="10.43" fill="#cfe1f6" stroke="#999" stroke-width="1"/>
<rect x="569.80" y="146.69" width="14.30" height="10.43" fill="#a6c7ef" stroke="#999" stroke-width="1"/>
<text x="587" y="153.66" font-size="7.8" fill="#111" stroke="#111" stroke-width="0.1">RTN4</text>
<rect x="398.20" y="157.12" width="14.30" height="10.43" fill="#bbd4f2" stroke="#999" stroke-width="1"/>
<rect x="412.50" y="157.12" width="14.30" height="10.43" fill="#c5dbf4" stroke="#999" stroke-width="1"/>
<rect x="426.80" y="157.12" width="14.30" height="10.43" fill="#9cc1ed" stroke="#999" stroke-width="1"/>
<rect x="441.10" y="157.12" width="14.30" height="10.43" fill="#c5dbf4" stroke="#999" stroke-width="1"/>
<rect x="455.40" y="157.12" width="14.30" height="10.43" fill="#cfe1f6" stroke="#999" stroke-width="1"/>
<rect x="469.70" y="157.12" width="14.30" height="10.43" fill="#dcdcdc" stroke="#999" stroke-width="1"/>
<rect x="484.00" y="157.12" width="14.30" height="10.43" fill="#e5241e" stroke="#999" stroke-width="1"/>
<rect x="498.30" y="157.12" width="14.30" height="10.43" fill="#e3474c" stroke="#999" stroke-width="1"/>
<rect x="512.60" y="157.12" width="14.30" height="10.43" fill="#e56d75" stroke="#999" stroke-width="1"/>
<rect x="526.90" y="157.12" width="14.30" height="10.43" fill="#ffffff" stroke="#999" stroke-width="1"/>
<rect x="541.20" y="157.12" width="14.30" height="10.43" fill="#ecf3fb" stroke="#999" stroke-width="1"/>
<rect x="555.50" y="157.12" width="14.30" height="10.43" fill="#b0cef1" stroke="#999" stroke-width="1"/>
<rect x="569.80" y="157.12" width="14.30" height="10.43" fill="#ecf3fb" stroke="#999" stroke-width="1"/>
<text x="587" y="164.09" font-size="7.8" fill="#111" stroke="#111" stroke-width="0.1">ANXA6</text>
<rect x="398.20" y="167.55" width="14.30" height="10.43" fill="#dcdcdc" stroke="#999" stroke-width="1"/>
<rect x="412.50" y="167.55" width="14.30" height="10.43" fill="#9cc1ed" stroke="#999" stroke-width="1"/>
<rect x="426.80" y="167.55" width="14.30" height="10.43" fill="#b0cef1" stroke="#999" stroke-width="1"/>
<rect x="441.10" y="167.55" width="14.30" height="10.43" fill="#c5dbf4" stroke="#999" stroke-width="1"/>
<rect x="455.40" y="167.55" width="14.30" height="10.43" fill="#cfe1f6" stroke="#999" stroke-width="1"/>
<rect x="469.70" y="167.55" width="14.30" height="10.43" fill="#a6c7ef" stroke="#999" stroke-width="1"/>
<rect x="484.00" y="167.55" width="14.30" height="10.43" fill="#e43635" stroke="#999" stroke-width="1"/>
<rect x="498.30" y="167.55" width="14.30" height="10.43" fill="#e45f67" stroke="#999" stroke-width="1"/>
<rect x="512.60" y="167.55" width="14.30" height="10.43" fill="#e56d75" stroke="#999" stroke-width="1"/>
<rect x="526.90" y="167.55" width="14.30" height="10.43" fill="#f7dfe2" stroke="#999" stroke-width="1"/>
<rect x="541.20" y="167.55" width="14.30" height="10.43" fill="#cfe1f6" stroke="#999" stroke-width="1"/>
<rect x="555.50" y="167.55" width="14.30" height="10.43" fill="#f5f9fd" stroke="#999" stroke-width="1"/>
<rect x="569.80" y="167.55" width="14.30" height="10.43" fill="#f5f9fd" stroke="#999" stroke-width="1"/>
<text x="587" y="174.52" font-size="7.8" fill="#111" stroke="#111" stroke-width="0.1">OGDH</text>
<rect x="398.20" y="177.98" width="14.30" height="10.43" fill="#bbd4f2" stroke="#999" stroke-width="1"/>
<rect x="412.50" y="177.98" width="14.30" height="10.43" fill="#bbd4f2" stroke="#999" stroke-width="1"/>
<rect x="426.80" y="177.98" width="14.30" height="10.43" fill="#b0cef1" stroke="#999" stroke-width="1"/>
<rect x="441.10" y="177.98" width="14.30" height="10.43" fill="#cfe1f6" stroke="#999" stroke-width="1"/>
<rect x="455.40" y="177.98" width="14.30" height="10.43" fill="#a6c7ef" stroke="#999" stroke-width="1"/>
<rect x="469.70" y="177.98" width="14.30" height="10.43" fill="#b0cef1" stroke="#999" stroke-width="1"/>
<rect x="484.00" y="177.98" width="14.30" height="10.43" fill="#e43635" stroke="#999" stroke-width="1"/>
<rect x="498.30" y="177.98" width="14.30" height="10.43" fill="#e45f67" stroke="#999" stroke-width="1"/>
<rect x="512.60" y="177.98" width="14.30" height="10.43" fill="#e45f67" stroke="#999" stroke-width="1"/>
<rect x="526.90" y="177.98" width="14.30" height="10.43" fill="#eeb6bc" stroke="#999" stroke-width="1"/>
<rect x="541.20" y="177.98" width="14.30" height="10.43" fill="#f9e9eb" stroke="#999" stroke-width="1"/>
<rect x="555.50" y="177.98" width="14.30" height="10.43" fill="#f5f9fd" stroke="#999" stroke-width="1"/>
<rect x="569.80" y="177.98" width="14.30" height="10.43" fill="#cfe1f6" stroke="#999" stroke-width="1"/>
<text x="587" y="184.94" font-size="7.8" fill="#f41e26" stroke="#f41e26" stroke-width="0.1">SLC25A3 (inner membrane)</text>
<rect x="398.20" y="188.41" width="14.30" height="10.43" fill="#dcdcdc" stroke="#999" stroke-width="1"/>
<rect x="412.50" y="188.41" width="14.30" height="10.43" fill="#b0cef1" stroke="#999" stroke-width="1"/>
<rect x="426.80" y="188.41" width="14.30" height="10.43" fill="#b0cef1" stroke="#999" stroke-width="1"/>
<rect x="441.10" y="188.41" width="14.30" height="10.43" fill="#f4d4d8" stroke="#999" stroke-width="1"/>
<rect x="455.40" y="188.41" width="14.30" height="10.43" fill="#6193e0" stroke="#999" stroke-width="1"/>
<rect x="469.70" y="188.41" width="14.30" height="10.43" fill="#b0cef1" stroke="#999" stroke-width="1"/>
<rect x="484.00" y="188.41" width="14.30" height="10.43" fill="#e5241e" stroke="#999" stroke-width="1"/>
<rect x="498.30" y="188.41" width="14.30" height="10.43" fill="#eba3aa" stroke="#999" stroke-width="1"/>
<rect x="512.60" y="188.41" width="14.30" height="10.43" fill="#edacb3" stroke="#999" stroke-width="1"/>
<rect x="526.90" y="188.41" width="14.30" height="10.43" fill="#f4d4d8" stroke="#999" stroke-width="1"/>
<rect x="541.20" y="188.41" width="14.30" height="10.43" fill="#e2edfa" stroke="#999" stroke-width="1"/>
<rect x="555.50" y="188.41" width="14.30" height="10.43" fill="#f5f9fd" stroke="#999" stroke-width="1"/>
<rect x="569.80" y="188.41" width="14.30" height="10.43" fill="#dcdcdc" stroke="#999" stroke-width="1"/>
<text x="587" y="195.38" font-size="7.8" fill="#f41e26" stroke="#f41e26" stroke-width="0.1">PC (matrix)</text>
<rect x="398.20" y="198.84" width="14.30" height="10.43" fill="#b0cef1" stroke="#999" stroke-width="1"/>
<rect x="412.50" y="198.84" width="14.30" height="10.43" fill="#bbd4f2" stroke="#999" stroke-width="1"/>
<rect x="426.80" y="198.84" width="14.30" height="10.43" fill="#cfe1f6" stroke="#999" stroke-width="1"/>
<rect x="441.10" y="198.84" width="14.30" height="10.43" fill="#cfe1f6" stroke="#999" stroke-width="1"/>
<rect x="455.40" y="198.84" width="14.30" height="10.43" fill="#dcdcdc" stroke="#999" stroke-width="1"/>
<rect x="469.70" y="198.84" width="14.30" height="10.43" fill="#a6c7ef" stroke="#999" stroke-width="1"/>
<rect x="484.00" y="198.84" width="14.30" height="10.43" fill="#e5241e" stroke="#999" stroke-width="1"/>
<rect x="498.30" y="198.84" width="14.30" height="10.43" fill="#e77c84" stroke="#999" stroke-width="1"/>
<rect x="512.60" y="198.84" width="14.30" height="10.43" fill="#f0bfc5" stroke="#999" stroke-width="1"/>
<rect x="526.90" y="198.84" width="14.30" height="10.43" fill="#e2edfa" stroke="#999" stroke-width="1"/>
<rect x="541.20" y="198.84" width="14.30" height="10.43" fill="#f4d4d8" stroke="#999" stroke-width="1"/>
<rect x="555.50" y="198.84" width="14.30" height="10.43" fill="#88b1e9" stroke="#999" stroke-width="1"/>
<rect x="569.80" y="198.84" width="14.30" height="10.43" fill="#edacb3" stroke="#999" stroke-width="1"/>
<text x="587" y="205.81" font-size="7.8" fill="#111" stroke="#111" stroke-width="0.1">PCCB</text>
<rect x="398.20" y="209.27" width="14.30" height="10.43" fill="#b0cef1" stroke="#999" stroke-width="1"/>
<rect x="412.50" y="209.27" width="14.30" height="10.43" fill="#a6c7ef" stroke="#999" stroke-width="1"/>
<rect x="426.80" y="209.27" width="14.30" height="10.43" fill="#88b1e9" stroke="#999" stroke-width="1"/>
<rect x="441.10" y="209.27" width="14.30" height="10.43" fill="#dcdcdc" stroke="#999" stroke-width="1"/>
<rect x="455.40" y="209.27" width="14.30" height="10.43" fill="#b0cef1" stroke="#999" stroke-width="1"/>
<rect x="469.70" y="209.27" width="14.30" height="10.43" fill="#dcdcdc" stroke="#999" stroke-width="1"/>
<rect x="484.00" y="209.27" width="14.30" height="10.43" fill="#ffffff" stroke="#999" stroke-width="1"/>
<rect x="498.30" y="209.27" width="14.30" height="10.43" fill="#e33e41" stroke="#999" stroke-width="1"/>
<rect x="512.60" y="209.27" width="14.30" height="10.43" fill="#c5dbf4" stroke="#999" stroke-width="1"/>
<rect x="526.90" y="209.27" width="14.30" height="10.43" fill="#e88a92" stroke="#999" stroke-width="1"/>
<rect x="541.20" y="209.27" width="14.30" height="10.43" fill="#edacb3" stroke="#999" stroke-width="1"/>
<rect x="555.50" y="209.27" width="14.30" height="10.43" fill="#dcdcdc" stroke="#999" stroke-width="1"/>
<rect x="569.80" y="209.27" width="14.30" height="10.43" fill="#eba3aa" stroke="#999" stroke-width="1"/>
<text x="587" y="216.23" font-size="7.8" fill="#111" stroke="#111" stroke-width="0.1">PGD</text>
<rect x="398.20" y="219.70" width="14.30" height="10.43" fill="#92b9eb" stroke="#999" stroke-width="1"/>
<rect x="412.50" y="219.70" width="14.30" height="10.43" fill="#f9e9eb" stroke="#999" stroke-width="1"/>
<rect x="426.80" y="219.70" width="14.30" height="10.43" fill="#5084dc" stroke="#999" stroke-width="1"/>
<rect x="441.10" y="219.70" width="14.30" height="10.43" fill="#edacb3" stroke="#999" stroke-width="1"/>
<rect x="455.40" y="219.70" width="14.30" height="10.43" fill="#f5f9fd" stroke="#999" stroke-width="1"/>
<rect x="469.70" y="219.70" width="14.30" height="10.43" fill="#6193e0" stroke="#999" stroke-width="1"/>
<rect x="484.00" y="219.70" width="14.30" height="10.43" fill="#f9e9eb" stroke="#999" stroke-width="1"/>
<rect x="498.30" y="219.70" width="14.30" height="10.43" fill="#e77c84" stroke="#999" stroke-width="1"/>
<rect x="512.60" y="219.70" width="14.30" height="10.43" fill="#f4d4d8" stroke="#999" stroke-width="1"/>
<rect x="526.90" y="219.70" width="14.30" height="10.43" fill="#fcf4f5" stroke="#999" stroke-width="1"/>
<rect x="541.20" y="219.70" width="14.30" height="10.43" fill="#ea99a1" stroke="#999" stroke-width="1"/>
<rect x="555.50" y="219.70" width="14.30" height="10.43" fill="#fbeff0" stroke="#999" stroke-width="1"/>
<rect x="569.80" y="219.70" width="14.30" height="10.43" fill="#eba3aa" stroke="#999" stroke-width="1"/>
<text x="587" y="226.66" font-size="7.8" fill="#111" stroke="#111" stroke-width="0.1">REG1A</text>
<rect x="398.20" y="230.13" width="14.30" height="10.43" fill="#dcdcdc" stroke="#999" stroke-width="1"/>
<rect x="412.50" y="230.13" width="14.30" height="10.43" fill="#e2edfa" stroke="#999" stroke-width="1"/>
<rect x="426.80" y="230.13" width="14.30" height="10.43" fill="#477dda" stroke="#999" stroke-width="1"/>
<rect x="441.10" y="230.13" width="14.30" height="10.43" fill="#fcf4f5" stroke="#999" stroke-width="1"/>
<rect x="455.40" y="230.13" width="14.30" height="10.43" fill="#bbd4f2" stroke="#999" stroke-width="1"/>
<rect x="469.70" y="230.13" width="14.30" height="10.43" fill="#b0cef1" stroke="#999" stroke-width="1"/>
<rect x="484.00" y="230.13" width="14.30" height="10.43" fill="#f7dfe2" stroke="#999" stroke-width="1"/>
<rect x="498.30" y="230.13" width="14.30" height="10.43" fill="#e33e41" stroke="#999" stroke-width="1"/>
<rect x="512.60" y="230.13" width="14.30" height="10.43" fill="#f9e9eb" stroke="#999" stroke-width="1"/>
<rect x="526.90" y="230.13" width="14.30" height="10.43" fill="#eba3aa" stroke="#999" stroke-width="1"/>
<rect x="541.20" y="230.13" width="14.30" height="10.43" fill="#f9e9eb" stroke="#999" stroke-width="1"/>
<rect x="555.50" y="230.13" width="14.30" height="10.43" fill="#fcf4f5" stroke="#999" stroke-width="1"/>
<rect x="569.80" y="230.13" width="14.30" height="10.43" fill="#f4d4d8" stroke="#999" stroke-width="1"/>
<text x="587" y="237.09" font-size="7.8" fill="#111" stroke="#111" stroke-width="0.1">PYGM</text>
<rect x="398.20" y="240.56" width="14.30" height="10.43" fill="#6a9ae2" stroke="#999" stroke-width="1"/>
<rect x="412.50" y="240.56" width="14.30" height="10.43" fill="#e77c84" stroke="#999" stroke-width="1"/>
<rect x="426.80" y="240.56" width="14.30" height="10.43" fill="#9cc1ed" stroke="#999" stroke-width="1"/>
<rect x="441.10" y="240.56" width="14.30" height="10.43" fill="#9cc1ed" stroke="#999" stroke-width="1"/>
<rect x="455.40" y="240.56" width="14.30" height="10.43" fill="#92b9eb" stroke="#999" stroke-width="1"/>
<rect x="469.70" y="240.56" width="14.30" height="10.43" fill="#bbd4f2" stroke="#999" stroke-width="1"/>
<rect x="484.00" y="240.56" width="14.30" height="10.43" fill="#f0bfc5" stroke="#999" stroke-width="1"/>
<rect x="498.30" y="240.56" width="14.30" height="10.43" fill="#f0bfc5" stroke="#999" stroke-width="1"/>
<rect x="512.60" y="240.56" width="14.30" height="10.43" fill="#eeb6bc" stroke="#999" stroke-width="1"/>
<rect x="526.90" y="240.56" width="14.30" height="10.43" fill="#ea99a1" stroke="#999" stroke-width="1"/>
<rect x="541.20" y="240.56" width="14.30" height="10.43" fill="#fefafa" stroke="#999" stroke-width="1"/>
<rect x="555.50" y="240.56" width="14.30" height="10.43" fill="#eeb6bc" stroke="#999" stroke-width="1"/>
<rect x="569.80" y="240.56" width="14.30" height="10.43" fill="#eeb6bc" stroke="#999" stroke-width="1"/>
<text x="587" y="247.53" font-size="7.8" fill="#111" stroke="#111" stroke-width="0.1">ADGRL1</text>
<rect x="398.20" y="250.99" width="14.30" height="10.43" fill="#477dda" stroke="#999" stroke-width="1"/>
<rect x="412.50" y="250.99" width="14.30" height="10.43" fill="#fefafa" stroke="#999" stroke-width="1"/>
<rect x="426.80" y="250.99" width="14.30" height="10.43" fill="#bbd4f2" stroke="#999" stroke-width="1"/>
<rect x="441.10" y="250.99" width="14.30" height="10.43" fill="#d9e7f8" stroke="#999" stroke-width="1"/>
<rect x="455.40" y="250.99" width="14.30" height="10.43" fill="#f5f9fd" stroke="#999" stroke-width="1"/>
<rect x="469.70" y="250.99" width="14.30" height="10.43" fill="#9cc1ed" stroke="#999" stroke-width="1"/>
<rect x="484.00" y="250.99" width="14.30" height="10.43" fill="#e56d75" stroke="#999" stroke-width="1"/>
<rect x="498.30" y="250.99" width="14.30" height="10.43" fill="#e45f67" stroke="#999" stroke-width="1"/>
<rect x="512.60" y="250.99" width="14.30" height="10.43" fill="#eba3aa" stroke="#999" stroke-width="1"/>
<rect x="526.90" y="250.99" width="14.30" height="10.43" fill="#f0bfc5" stroke="#999" stroke-width="1"/>
<rect x="541.20" y="250.99" width="14.30" height="10.43" fill="#9cc1ed" stroke="#999" stroke-width="1"/>
<rect x="555.50" y="250.99" width="14.30" height="10.43" fill="#f7dfe2" stroke="#999" stroke-width="1"/>
<rect x="569.80" y="250.99" width="14.30" height="10.43" fill="#eba3aa" stroke="#999" stroke-width="1"/>
<text x="587" y="257.95" font-size="7.8" fill="#111" stroke="#111" stroke-width="0.1">CLUL1</text>
<rect x="398.20" y="261.42" width="14.30" height="10.43" fill="#477dda" stroke="#999" stroke-width="1"/>
<rect x="412.50" y="261.42" width="14.30" height="10.43" fill="#d9e7f8" stroke="#999" stroke-width="1"/>
<rect x="426.80" y="261.42" width="14.30" height="10.43" fill="#9cc1ed" stroke="#999" stroke-width="1"/>
<rect x="441.10" y="261.42" width="14.30" height="10.43" fill="#f1c9ce" stroke="#999" stroke-width="1"/>
<rect x="455.40" y="261.42" width="14.30" height="10.43" fill="#ecf3fb" stroke="#999" stroke-width="1"/>
<rect x="469.70" y="261.42" width="14.30" height="10.43" fill="#92b9eb" stroke="#999" stroke-width="1"/>
<rect x="484.00" y="261.42" width="14.30" height="10.43" fill="#e3474c" stroke="#999" stroke-width="1"/>
<rect x="498.30" y="261.42" width="14.30" height="10.43" fill="#e3474c" stroke="#999" stroke-width="1"/>
<rect x="512.60" y="261.42" width="14.30" height="10.43" fill="#fafcfe" stroke="#999" stroke-width="1"/>
<rect x="526.90" y="261.42" width="14.30" height="10.43" fill="#f0bfc5" stroke="#999" stroke-width="1"/>
<rect x="541.20" y="261.42" width="14.30" height="10.43" fill="#f7dfe2" stroke="#999" stroke-width="1"/>
<rect x="555.50" y="261.42" width="14.30" height="10.43" fill="#fafcfe" stroke="#999" stroke-width="1"/>
<rect x="569.80" y="261.42" width="14.30" height="10.43" fill="#f4d4d8" stroke="#999" stroke-width="1"/>
<text x="587" y="268.38" font-size="7.8" fill="#111" stroke="#111" stroke-width="0.1">YWHAZ</text>
<rect x="398.20" y="271.85" width="14.30" height="10.43" fill="#588cde" stroke="#999" stroke-width="1"/>
<rect x="412.50" y="271.85" width="14.30" height="10.43" fill="#9cc1ed" stroke="#999" stroke-width="1"/>
<rect x="426.80" y="271.85" width="14.30" height="10.43" fill="#9cc1ed" stroke="#999" stroke-width="1"/>
<rect x="441.10" y="271.85" width="14.30" height="10.43" fill="#c5dbf4" stroke="#999" stroke-width="1"/>
<rect x="455.40" y="271.85" width="14.30" height="10.43" fill="#fcf4f5" stroke="#999" stroke-width="1"/>
<rect x="469.70" y="271.85" width="14.30" height="10.43" fill="#eba3aa" stroke="#999" stroke-width="1"/>
<rect x="484.00" y="271.85" width="14.30" height="10.43" fill="#e56d75" stroke="#999" stroke-width="1"/>
<rect x="498.30" y="271.85" width="14.30" height="10.43" fill="#ea99a1" stroke="#999" stroke-width="1"/>
<rect x="512.60" y="271.85" width="14.30" height="10.43" fill="#f4d4d8" stroke="#999" stroke-width="1"/>
<rect x="526.90" y="271.85" width="14.30" height="10.43" fill="#edacb3" stroke="#999" stroke-width="1"/>
<rect x="541.20" y="271.85" width="14.30" height="10.43" fill="#eba3aa" stroke="#999" stroke-width="1"/>
<rect x="555.50" y="271.85" width="14.30" height="10.43" fill="#92b9eb" stroke="#999" stroke-width="1"/>
<rect x="569.80" y="271.85" width="14.30" height="10.43" fill="#f4d4d8" stroke="#999" stroke-width="1"/>
<text x="587" y="278.81" font-size="7.8" fill="#111" stroke="#111" stroke-width="0.1">IGHV2−70D</text>
<rect x="398.20" y="282.28" width="14.30" height="10.43" fill="#a6c7ef" stroke="#999" stroke-width="1"/>
<rect x="412.50" y="282.28" width="14.30" height="10.43" fill="#b0cef1" stroke="#999" stroke-width="1"/>
<rect x="426.80" y="282.28" width="14.30" height="10.43" fill="#eeb6bc" stroke="#999" stroke-width="1"/>
<rect x="441.10" y="282.28" width="14.30" height="10.43" fill="#c5dbf4" stroke="#999" stroke-width="1"/>
<rect x="455.40" y="282.28" width="14.30" height="10.43" fill="#88b1e9" stroke="#999" stroke-width="1"/>
<rect x="469.70" y="282.28" width="14.30" height="10.43" fill="#bbd4f2" stroke="#999" stroke-width="1"/>
<rect x="484.00" y="282.28" width="14.30" height="10.43" fill="#ecf3fb" stroke="#999" stroke-width="1"/>
<rect x="498.30" y="282.28" width="14.30" height="10.43" fill="#e5241e" stroke="#999" stroke-width="1"/>
<rect x="512.60" y="282.28" width="14.30" height="10.43" fill="#f9e9eb" stroke="#999" stroke-width="1"/>
<rect x="526.90" y="282.28" width="14.30" height="10.43" fill="#e33e41" stroke="#999" stroke-width="1"/>
<rect x="541.20" y="282.28" width="14.30" height="10.43" fill="#f9e9eb" stroke="#999" stroke-width="1"/>
<rect x="555.50" y="282.28" width="14.30" height="10.43" fill="#c5dbf4" stroke="#999" stroke-width="1"/>
<rect x="569.80" y="282.28" width="14.30" height="10.43" fill="#f4d4d8" stroke="#999" stroke-width="1"/>
<text x="587" y="289.24" font-size="7.8" fill="#f41e26" stroke="#f41e26" stroke-width="0.1">PARK7 (matrix)</text>
<rect x="398.20" y="292.71" width="14.30" height="10.43" fill="#88b1e9" stroke="#999" stroke-width="1"/>
<rect x="412.50" y="292.71" width="14.30" height="10.43" fill="#9cc1ed" stroke="#999" stroke-width="1"/>
<rect x="426.80" y="292.71" width="14.30" height="10.43" fill="#eeb6bc" stroke="#999" stroke-width="1"/>
<rect x="441.10" y="292.71" width="14.30" height="10.43" fill="#ecf3fb" stroke="#999" stroke-width="1"/>
<rect x="455.40" y="292.71" width="14.30" height="10.43" fill="#88b1e9" stroke="#999" stroke-width="1"/>
<rect x="469.70" y="292.71" width="14.30" height="10.43" fill="#bbd4f2" stroke="#999" stroke-width="1"/>
<rect x="484.00" y="292.71" width="14.30" height="10.43" fill="#ffffff" stroke="#999" stroke-width="1"/>
<rect x="498.30" y="292.71" width="14.30" height="10.43" fill="#e5241e" stroke="#999" stroke-width="1"/>
<rect x="512.60" y="292.71" width="14.30" height="10.43" fill="#f9e9eb" stroke="#999" stroke-width="1"/>
<rect x="526.90" y="292.71" width="14.30" height="10.43" fill="#e56d75" stroke="#999" stroke-width="1"/>
<rect x="541.20" y="292.71" width="14.30" height="10.43" fill="#f4d4d8" stroke="#999" stroke-width="1"/>
<rect x="555.50" y="292.71" width="14.30" height="10.43" fill="#cfe1f6" stroke="#999" stroke-width="1"/>
<rect x="569.80" y="292.71" width="14.30" height="10.43" fill="#f4d4d8" stroke="#999" stroke-width="1"/>
<text x="587" y="299.67" font-size="7.8" fill="#111" stroke="#111" stroke-width="0.1">CRYGC</text>
<text transform="translate(404.95,304.8) rotate(-45)" text-anchor="end" font-size="7.75" fill="#111" dominant-baseline="hanging" stroke="#111" stroke-width="0.1">C1</text>
<text transform="translate(419.25,304.8) rotate(-45)" text-anchor="end" font-size="7.75" fill="#111" dominant-baseline="hanging" stroke="#111" stroke-width="0.1">C2</text>
<text transform="translate(433.55,304.8) rotate(-45)" text-anchor="end" font-size="7.75" fill="#111" dominant-baseline="hanging" stroke="#111" stroke-width="0.1">C3</text>
<text transform="translate(447.85,304.8) rotate(-45)" text-anchor="end" font-size="7.75" fill="#111" dominant-baseline="hanging" stroke="#111" stroke-width="0.1">C4</text>
<text transform="translate(462.15,304.8) rotate(-45)" text-anchor="end" font-size="7.75" fill="#111" dominant-baseline="hanging" stroke="#111" stroke-width="0.1">C5</text>
<text transform="translate(476.45,304.8) rotate(-45)" text-anchor="end" font-size="7.75" fill="#111" dominant-baseline="hanging" stroke="#111" stroke-width="0.1">C6</text>
<text transform="translate(490.75,304.8) rotate(-45)" text-anchor="end" font-size="7.75" fill="#111" dominant-baseline="hanging" stroke="#111" stroke-width="0.1">F1</text>
<text transform="translate(505.05,304.8) rotate(-45)" text-anchor="end" font-size="7.75" fill="#111" dominant-baseline="hanging" stroke="#111" stroke-width="0.1">F2</text>
<text transform="translate(519.35,304.8) rotate(-45)" text-anchor="end" font-size="7.75" fill="#111" dominant-baseline="hanging" stroke="#111" stroke-width="0.1">F3</text>
<text transform="translate(533.65,304.8) rotate(-45)" text-anchor="end" font-size="7.75" fill="#111" dominant-baseline="hanging" stroke="#111" stroke-width="0.1">F4</text>
<text transform="translate(547.95,304.8) rotate(-45)" text-anchor="end" font-size="7.75" fill="#111" dominant-baseline="hanging" stroke="#111" stroke-width="0.1">F5</text>
<text transform="translate(562.25,304.8) rotate(-45)" text-anchor="end" font-size="7.75" fill="#111" dominant-baseline="hanging" stroke="#111" stroke-width="0.1">F6</text>
<text transform="translate(576.55,304.8) rotate(-45)" text-anchor="end" font-size="7.75" fill="#111" dominant-baseline="hanging" stroke="#111" stroke-width="0.1">F7</text>
<rect x="634" y="63.2" width="7" height="97.8" fill="url(#bwr)"/>
<text x="642.7" y="69.3" font-size="7.8" fill="#111" stroke="#111" stroke-width="0.1">2</text>
<text x="642.7" y="91.8" font-size="7.8" fill="#111" stroke="#111" stroke-width="0.1">1</text>
<text x="642.7" y="114.3" font-size="7.8" fill="#111" stroke="#111" stroke-width="0.1">0</text>
<text x="642.7" y="136.3" font-size="7.8" fill="#111" stroke="#111" stroke-width="0.1">−1</text>
<text x="642.7" y="158.3" font-size="7.8" fill="#111" stroke="#111" stroke-width="0.1">−2</text>
<text transform="translate(628.8,112) rotate(-90)" text-anchor="middle" font-size="7.9" fill="#111" stroke="#111" stroke-width="0.1">Log2 Expression</text>
<path d="M398.20 68.47 H381.20 V78.89 H398.20 M398.20 89.33 H387.60 V99.75 H398.20 M398.20 120.61 H390.60 V131.05 H398.20 M398.20 110.19 H386.50 V125.83 H390.60 M387.60 94.54 H381.60 V118.01 H386.50 M398.20 172.76 H390.20 V183.19 H398.20 M398.20 162.33 H389.40 V177.98 H390.20 M398.20 151.91 H388.60 V170.16 H389.40 M398.20 141.47 H385.30 V161.03 H388.60 M398.20 193.62 H383.30 V204.06 H398.20 M385.30 151.25 H378.90 V198.84 H383.30 M381.60 106.27 H376.40 V175.05 H378.90 M381.20 73.68 H373.70 V140.66 H376.40 M398.20 224.91 H383.10 V235.34 H398.20 M398.20 214.48 H379.20 V230.13 H383.10 M398.20 256.20 H383.30 V266.63 H398.20 M398.20 245.78 H374.10 V261.42 H383.30 M379.20 222.31 H370.80 V253.60 H374.10 M398.20 287.50 H391.40 V297.92 H398.20 M398.20 277.06 H370.40 V292.71 H391.40 M370.80 237.95 H366.70 V284.89 H370.40 M373.70 107.17 H364.10 V261.42 H366.70" fill="none" stroke="#111" stroke-width="1.1"/>
<g>
<rect x="65.40" y="508.77" width="24.40" height="29.83" fill="#fb200e" stroke="#000" stroke-width="1.1"/>
<rect x="102.70" y="446.04" width="24.50" height="92.56" fill="#1500fd" stroke="#000" stroke-width="1.1"/>
<path d="M52.30 407.00 V538.60 H140.60" stroke="#000" stroke-width="1.3" fill="none"/>
<path d="M46.80 538.60 H52.30" stroke="#000" stroke-width="1.2"/>
<text x="44.30" y="544.50" font-size="12.3" text-anchor="end" fill="#111" stroke="#111" stroke-width="0.2">0</text>
<path d="M46.80 494.73 H52.30" stroke="#000" stroke-width="1.2"/>
<text x="44.30" y="500.63" font-size="12.3" text-anchor="end" fill="#111" stroke="#111" stroke-width="0.2">5</text>
<path d="M46.80 450.87 H52.30" stroke="#000" stroke-width="1.2"/>
<text x="44.30" y="456.77" font-size="12.3" text-anchor="end" fill="#111" stroke="#111" stroke-width="0.2">10</text>
<path d="M46.80 407.00 H52.30" stroke="#000" stroke-width="1.2"/>
<text x="44.30" y="412.90" font-size="12.3" text-anchor="end" fill="#111" stroke="#111" stroke-width="0.2">15</text>
<path d="M77.60 538.60 V543.60" stroke="#000" stroke-width="1.2"/>
<path d="M114.95 538.60 V543.60" stroke="#000" stroke-width="1.2"/>
<text x="72.90" y="556.2" font-size="12.9" text-anchor="middle" fill="#111" stroke="#111" stroke-width="0.2">Control</text>
<text x="115.85" y="556.2" font-size="12.9" text-anchor="middle" fill="#111" stroke="#111" stroke-width="0.2">FECD</text>
<circle cx="66.90" cy="509.30" r="2.0" fill="#fff" stroke="#000" stroke-width="1.3"/>
<circle cx="71.10" cy="506.10" r="2.0" fill="#fff" stroke="#000" stroke-width="1.3"/>
<circle cx="75.30" cy="509.30" r="2.0" fill="#fff" stroke="#000" stroke-width="1.3"/>
<circle cx="79.60" cy="508.00" r="2.0" fill="#fff" stroke="#000" stroke-width="1.3"/>
<circle cx="83.70" cy="509.90" r="2.0" fill="#fff" stroke="#000" stroke-width="1.3"/>
<circle cx="88.10" cy="508.20" r="2.0" fill="#fff" stroke="#000" stroke-width="1.3"/>
<circle cx="104.50" cy="446.50" r="2.0" fill="#fff" stroke="#000" stroke-width="1.3"/>
<circle cx="108.60" cy="445.80" r="2.0" fill="#fff" stroke="#000" stroke-width="1.3"/>
<circle cx="112.80" cy="446.20" r="2.0" fill="#fff" stroke="#000" stroke-width="1.3"/>
<circle cx="117.00" cy="445.80" r="2.0" fill="#fff" stroke="#000" stroke-width="1.3"/>
<circle cx="121.10" cy="448.90" r="2.0" fill="#fff" stroke="#000" stroke-width="1.3"/>
<circle cx="125.30" cy="446.30" r="2.0" fill="#fff" stroke="#000" stroke-width="1.3"/>
<path d="M83.00 438.40 H112.00" stroke="#1a1414" stroke-width="1.45"/>
<text x="97.00" y="440.10" font-size="15" text-anchor="middle" fill="#111" stroke="#111" stroke-width="0.2">***</text>
<text transform="translate(21.80,474.80) rotate(-90)" font-size="13.2" text-anchor="middle" fill="#111" stroke="#111" stroke-width="0.2">SLC25A3 (ng/ml)</text>
</g>
<g>
<rect x="237.70" y="514.39" width="23.90" height="24.11" fill="#fb200e" stroke="#000" stroke-width="1.1"/>
<rect x="275.60" y="455.39" width="23.40" height="83.11" fill="#1500fd" stroke="#000" stroke-width="1.1"/>
<path d="M249.60 517.00 V511.50 M247.00 511.50 H252.20 M247.00 517.00 H252.20" stroke="#000" stroke-width="1.1" fill="none"/>
<path d="M287.50 473.40 V436.40 M283.00 436.40 H292.00 M283.00 473.40 H292.00" stroke="#000" stroke-width="1.1" fill="none"/>
<path d="M224.90 407.00 V538.50 H312.70" stroke="#000" stroke-width="1.3" fill="none"/>
<path d="M219.40 538.50 H224.90" stroke="#000" stroke-width="1.2"/>
<text x="216.90" y="544.40" font-size="12.3" text-anchor="end" fill="#111" stroke="#111" stroke-width="0.2">0</text>
<path d="M219.40 494.67 H224.90" stroke="#000" stroke-width="1.2"/>
<text x="216.90" y="500.57" font-size="12.3" text-anchor="end" fill="#111" stroke="#111" stroke-width="0.2">50</text>
<path d="M219.40 450.83 H224.90" stroke="#000" stroke-width="1.2"/>
<text x="216.90" y="456.73" font-size="12.3" text-anchor="end" fill="#111" stroke="#111" stroke-width="0.2">100</text>
<path d="M219.40 407.00 H224.90" stroke="#000" stroke-width="1.2"/>
<text x="216.90" y="412.90" font-size="12.3" text-anchor="end" fill="#111" stroke="#111" stroke-width="0.2">150</text>
<path d="M249.65 538.50 V543.50" stroke="#000" stroke-width="1.2"/>
<path d="M287.30 538.50 V543.50" stroke="#000" stroke-width="1.2"/>
<text x="244.95" y="556.2" font-size="12.9" text-anchor="middle" fill="#111" stroke="#111" stroke-width="0.2">Control</text>
<text x="288.20" y="556.2" font-size="12.9" text-anchor="middle" fill="#111" stroke="#111" stroke-width="0.2">FECD</text>
<circle cx="239.20" cy="511.80" r="2.0" fill="#fff" stroke="#000" stroke-width="1.3"/>
<circle cx="246.10" cy="511.00" r="2.0" fill="#fff" stroke="#000" stroke-width="1.3"/>
<circle cx="253.20" cy="511.70" r="2.0" fill="#fff" stroke="#000" stroke-width="1.3"/>
<circle cx="260.20" cy="511.00" r="2.0" fill="#fff" stroke="#000" stroke-width="1.3"/>
<circle cx="239.20" cy="517.60" r="2.0" fill="#fff" stroke="#000" stroke-width="1.3"/>
<circle cx="246.10" cy="516.00" r="2.0" fill="#fff" stroke="#000" stroke-width="1.3"/>
<circle cx="253.20" cy="516.80" r="2.0" fill="#fff" stroke="#000" stroke-width="1.3"/>
<circle cx="260.20" cy="516.40" r="2.0" fill="#fff" stroke="#000" stroke-width="1.3"/>
<circle cx="283.60" cy="435.20" r="2.0" fill="#fff" stroke="#000" stroke-width="1.3"/>
<circle cx="283.60" cy="439.20" r="2.0" fill="#fff" stroke="#000" stroke-width="1.3"/>
<circle cx="290.20" cy="437.70" r="2.0" fill="#fff" stroke="#000" stroke-width="1.3"/>
<circle cx="297.10" cy="436.70" r="2.0" fill="#fff" stroke="#000" stroke-width="1.3"/>
<circle cx="276.20" cy="474.00" r="2.0" fill="#fff" stroke="#000" stroke-width="1.3"/>
<circle cx="283.60" cy="471.10" r="2.0" fill="#fff" stroke="#000" stroke-width="1.3"/>
<circle cx="290.20" cy="472.30" r="2.0" fill="#fff" stroke="#000" stroke-width="1.3"/>
<circle cx="297.10" cy="471.60" r="2.0" fill="#fff" stroke="#000" stroke-width="1.3"/>
<path d="M256.70 428.30 H284.90" stroke="#1a1414" stroke-width="1.45"/>
<text x="270.30" y="430.00" font-size="15" text-anchor="middle" fill="#111" stroke="#111" stroke-width="0.2">***</text>
<text transform="translate(190.30,474.75) rotate(-90)" font-size="13.2" text-anchor="middle" fill="#111" stroke="#111" stroke-width="0.2">PC (ng/ml)</text>
</g>
<g>
<rect x="410.50" y="527.59" width="24.10" height="10.91" fill="#fb200e" stroke="#000" stroke-width="1.1"/>
<rect x="448.50" y="438.58" width="24.20" height="99.92" fill="#1500fd" stroke="#000" stroke-width="1.1"/>
<path d="M422.60 530.00 V523.50 M420.00 523.50 H425.20 M420.00 530.00 H425.20" stroke="#000" stroke-width="1.1" fill="none"/>
<path d="M460.40 445.10 V430.40 M453.60 430.40 H467.20 M453.60 445.10 H467.20" stroke="#000" stroke-width="1.1" fill="none"/>
<path d="M397.80 407.60 V538.50 H485.70" stroke="#000" stroke-width="1.3" fill="none"/>
<path d="M392.30 538.50 H397.80" stroke="#000" stroke-width="1.2"/>
<text x="389.80" y="544.40" font-size="12.3" text-anchor="end" fill="#111" stroke="#111" stroke-width="0.2">0</text>
<path d="M392.30 494.87 H397.80" stroke="#000" stroke-width="1.2"/>
<text x="389.80" y="500.77" font-size="12.3" text-anchor="end" fill="#111" stroke="#111" stroke-width="0.2">20</text>
<path d="M392.30 451.23 H397.80" stroke="#000" stroke-width="1.2"/>
<text x="389.80" y="457.13" font-size="12.3" text-anchor="end" fill="#111" stroke="#111" stroke-width="0.2">40</text>
<path d="M392.30 407.60 H397.80" stroke="#000" stroke-width="1.2"/>
<text x="389.80" y="413.50" font-size="12.3" text-anchor="end" fill="#111" stroke="#111" stroke-width="0.2">60</text>
<path d="M422.55 538.50 V543.50" stroke="#000" stroke-width="1.2"/>
<path d="M460.60 538.50 V543.50" stroke="#000" stroke-width="1.2"/>
<text x="421.65" y="556.2" font-size="12.9" text-anchor="middle" fill="#111" stroke="#111" stroke-width="0.2">Control</text>
<text x="465.20" y="556.2" font-size="12.9" text-anchor="middle" fill="#111" stroke="#111" stroke-width="0.2">FECD</text>
<circle cx="412.20" cy="526.50" r="2.0" fill="#fff" stroke="#000" stroke-width="1.3"/>
<circle cx="411.90" cy="532.40" r="2.0" fill="#fff" stroke="#000" stroke-width="1.3"/>
<circle cx="419.10" cy="523.40" r="2.0" fill="#fff" stroke="#000" stroke-width="1.3"/>
<circle cx="419.10" cy="529.30" r="2.0" fill="#fff" stroke="#000" stroke-width="1.3"/>
<circle cx="426.00" cy="523.40" r="2.0" fill="#fff" stroke="#000" stroke-width="1.3"/>
<circle cx="426.00" cy="530.60" r="2.0" fill="#fff" stroke="#000" stroke-width="1.3"/>
<circle cx="433.10" cy="523.90" r="2.0" fill="#fff" stroke="#000" stroke-width="1.3"/>
<circle cx="433.10" cy="529.90" r="2.0" fill="#fff" stroke="#000" stroke-width="1.3"/>
<circle cx="452.30" cy="431.30" r="2.0" fill="#fff" stroke="#000" stroke-width="1.3"/>
<circle cx="452.30" cy="436.00" r="2.0" fill="#fff" stroke="#000" stroke-width="1.3"/>
<circle cx="460.10" cy="432.30" r="2.0" fill="#fff" stroke="#000" stroke-width="1.3"/>
<circle cx="468.00" cy="429.40" r="2.0" fill="#fff" stroke="#000" stroke-width="1.3"/>
<circle cx="468.00" cy="438.60" r="2.0" fill="#fff" stroke="#000" stroke-width="1.3"/>
<circle cx="460.10" cy="442.60" r="2.0" fill="#fff" stroke="#000" stroke-width="1.3"/>
<circle cx="468.00" cy="445.80" r="2.0" fill="#fff" stroke="#000" stroke-width="1.3"/>
<circle cx="452.30" cy="448.00" r="2.0" fill="#fff" stroke="#000" stroke-width="1.3"/>
<path d="M430.00 426.00 H458.50" stroke="#1a1414" stroke-width="1.45"/>
<text x="443.75" y="427.70" font-size="15" text-anchor="middle" fill="#111" stroke="#111" stroke-width="0.2">***</text>
<text transform="translate(363.40,475.05) rotate(-90)" font-size="13.2" text-anchor="middle" fill="#111" stroke="#111" stroke-width="0.2">PARK7 (ng/ml)</text>
</g>
</svg></body></html>
